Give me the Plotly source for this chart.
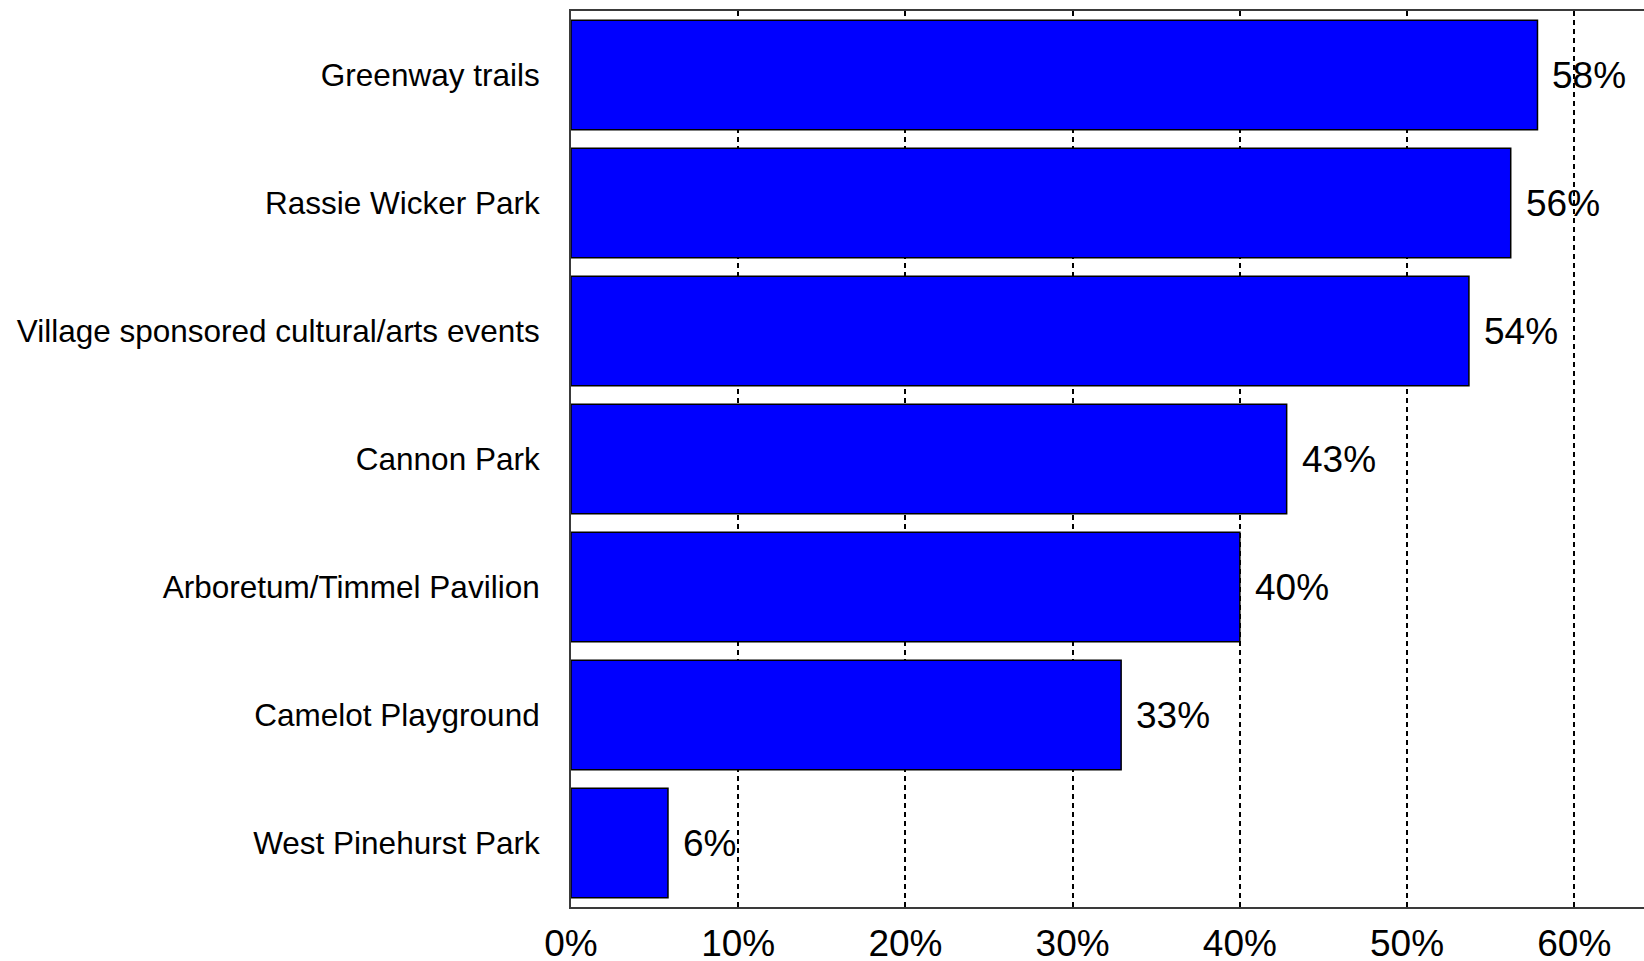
import plotly.graph_objects as go

# Share of respondents using each facility (percent)
facilities = [
    "Greenway trails",
    "Rassie Wicker Park",
    "Village sponsored cultural/arts events",
    "Cannon Park",
    "Arboretum/Timmel Pavilion",
    "Camelot Playground",
    "West Pinehurst Park",
]
usage_pct = [57.8, 56.2, 53.7, 42.8, 40.0, 32.9, 5.8]

x_ticks = [0, 10, 20, 30, 40, 50, 60]
x_tick_labels = ["0%", "10%", "20%", "30%", "40%", "50%", "60%"]

FONT = "Arial, Liberation Sans, sans-serif"

fig = go.Figure(
    go.Bar(
        x=usage_pct,
        y=facilities,
        orientation="h",
        marker=dict(color="#0000FF", line=dict(color="#000000", width=1.5)),
        hoverinfo="x+y",
    )
)

# Value labels placed just past the end of each bar
for name, v in zip(facilities, usage_pct):
    fig.add_annotation(
        x=v, y=name, text=f"{v:.0f}%",
        xanchor="left", yanchor="middle", xshift=13,
        showarrow=False,
        font=dict(family=FONT, size=37, color="#000000"),
    )

fig.update_layout(
    width=1644, height=961,
    margin=dict(l=571, r=0, t=11, b=54),
    paper_bgcolor="white", plot_bgcolor="white",
    bargap=0.145,
    showlegend=False,
    font=dict(family=FONT, color="#000000"),
)

fig.update_xaxes(
    range=[0, 64.17],
    tickvals=x_ticks, ticktext=x_tick_labels,
    tickfont=dict(family=FONT, size=37, color="#000000"),
    showgrid=True, gridcolor="#000000", gridwidth=1.5, griddash="5px,4px",
    zeroline=False,
    showline=True, linecolor="#3a3a3a", linewidth=2, mirror=True,
    ticks="", ticklabelstandoff=3,
    automargin=False,
)

fig.update_yaxes(
    categoryorder="array", categoryarray=facilities[::-1],
    tickfont=dict(family=FONT, size=31.5, color="#000000"),
    showgrid=False, zeroline=False,
    showline=True, linecolor="#3a3a3a", linewidth=2,
    ticks="", ticklabelstandoff=23,
    automargin=False,
)

fig.write_html("out.html")
